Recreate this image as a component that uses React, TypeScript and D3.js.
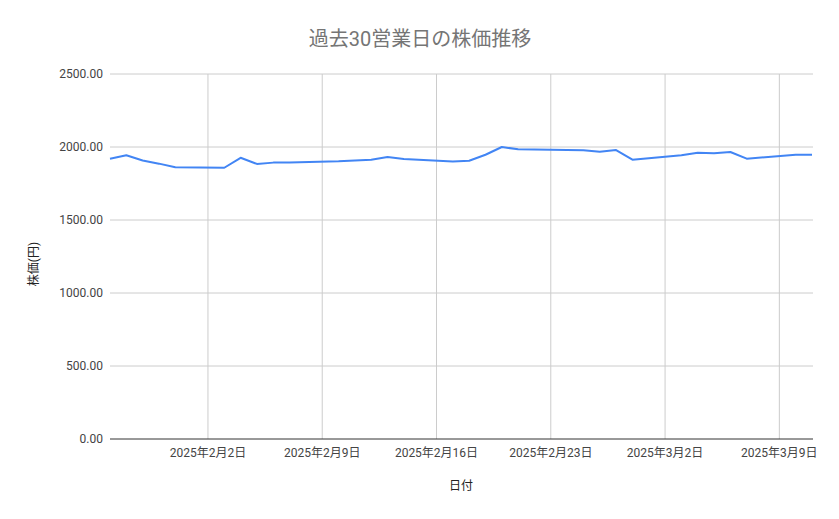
import * as d3 from "d3";

const tradeDates = [
  "2025-01-27", "2025-01-28", "2025-01-29", "2025-01-30", "2025-01-31",
  "2025-02-03", "2025-02-04", "2025-02-05", "2025-02-06", "2025-02-07",
  "2025-02-10", "2025-02-12", "2025-02-13", "2025-02-14",
  "2025-02-17", "2025-02-18", "2025-02-19", "2025-02-20", "2025-02-21",
  "2025-02-25", "2025-02-26", "2025-02-27", "2025-02-28",
  "2025-03-03", "2025-03-04", "2025-03-05", "2025-03-06", "2025-03-07",
  "2025-03-10", "2025-03-11",
];
const prices = [
  1920, 1943, 1908, 1886, 1861,
  1858, 1926, 1884, 1893, 1893,
  1902, 1913, 1931, 1918,
  1901, 1906, 1947, 2000, 1984,
  1978, 1968, 1979, 1913,
  1943, 1961, 1957, 1966, 1920,
  1947, 1947,
];
const dateTicks = ["2025-02-02", "2025-02-09", "2025-02-16", "2025-02-23", "2025-03-02", "2025-03-09"];
const priceTicks = [0, 500, 1000, 1500, 2000, 2500];

const parse = (s: string) => {
  const [y, m, d] = s.split("-").map(Number);
  return new Date(y, m - 1, d);
};
const fmtDate = (dt: Date) => `${dt.getFullYear()}年${dt.getMonth() + 1}月${dt.getDate()}日`;

const W = 839;
const H = 519;
const font = "Roboto, 'Noto Sans CJK JP', sans-serif";

export default function App() {
  const points = tradeDates.map((d, i) => ({ date: parse(d), value: prices[i] }));
  const x = d3.scaleTime().domain([parse("2025-01-27"), parse("2025-03-11")]).range([110, 812]);
  const y = d3.scaleLinear().domain([0, 2500]).range([439, 74]);
  const line = d3
    .line<(typeof points)[number]>()
    .x((p) => x(p.date))
    .y((p) => y(p.value));

  return (
    <svg width={W} height={H} style={{ position: "absolute", left: 0, top: 0, background: "#fff" }}>
      <text x={420} y={46} textAnchor="middle" fontFamily={font} fontSize={20} fill="#757575">
        過去30営業日の株価推移
      </text>
      {priceTicks.map((t) => (
        <g key={t}>
          {t > 0 && <line x1={110} x2={813} y1={y(t)} y2={y(t)} stroke="#cccccc" strokeWidth={1} />}
          <text x={103} y={y(t) + 4} textAnchor="end" fontFamily={font} fontSize={12} fill="#444">
            {t.toFixed(2)}
          </text>
        </g>
      ))}
      {dateTicks.map((d) => {
        const dt = parse(d);
        return (
          <g key={d}>
            <line x1={x(dt)} x2={x(dt)} y1={74} y2={439} stroke="#cccccc" strokeWidth={1} />
            <text x={x(dt)} y={457} textAnchor="middle" fontFamily={font} fontSize={12} fill="#444">
              {fmtDate(dt)}
            </text>
          </g>
        );
      })}
      <line x1={110} x2={813} y1={y(0)} y2={y(0)} stroke="#333" strokeWidth={1} />
      <path d={line(points) ?? undefined} fill="none" stroke="#4285f4" strokeWidth={2} strokeLinejoin="round" />
      <text x={461} y={490} textAnchor="middle" fontFamily={font} fontSize={12} fill="#222">
        日付
      </text>
      <text
        transform={`translate(38,264) rotate(-90)`}
        textAnchor="middle"
        fontFamily={font}
        fontSize={12}
        fill="#222"
      >
        株価(円)
      </text>
    </svg>
  );
}
